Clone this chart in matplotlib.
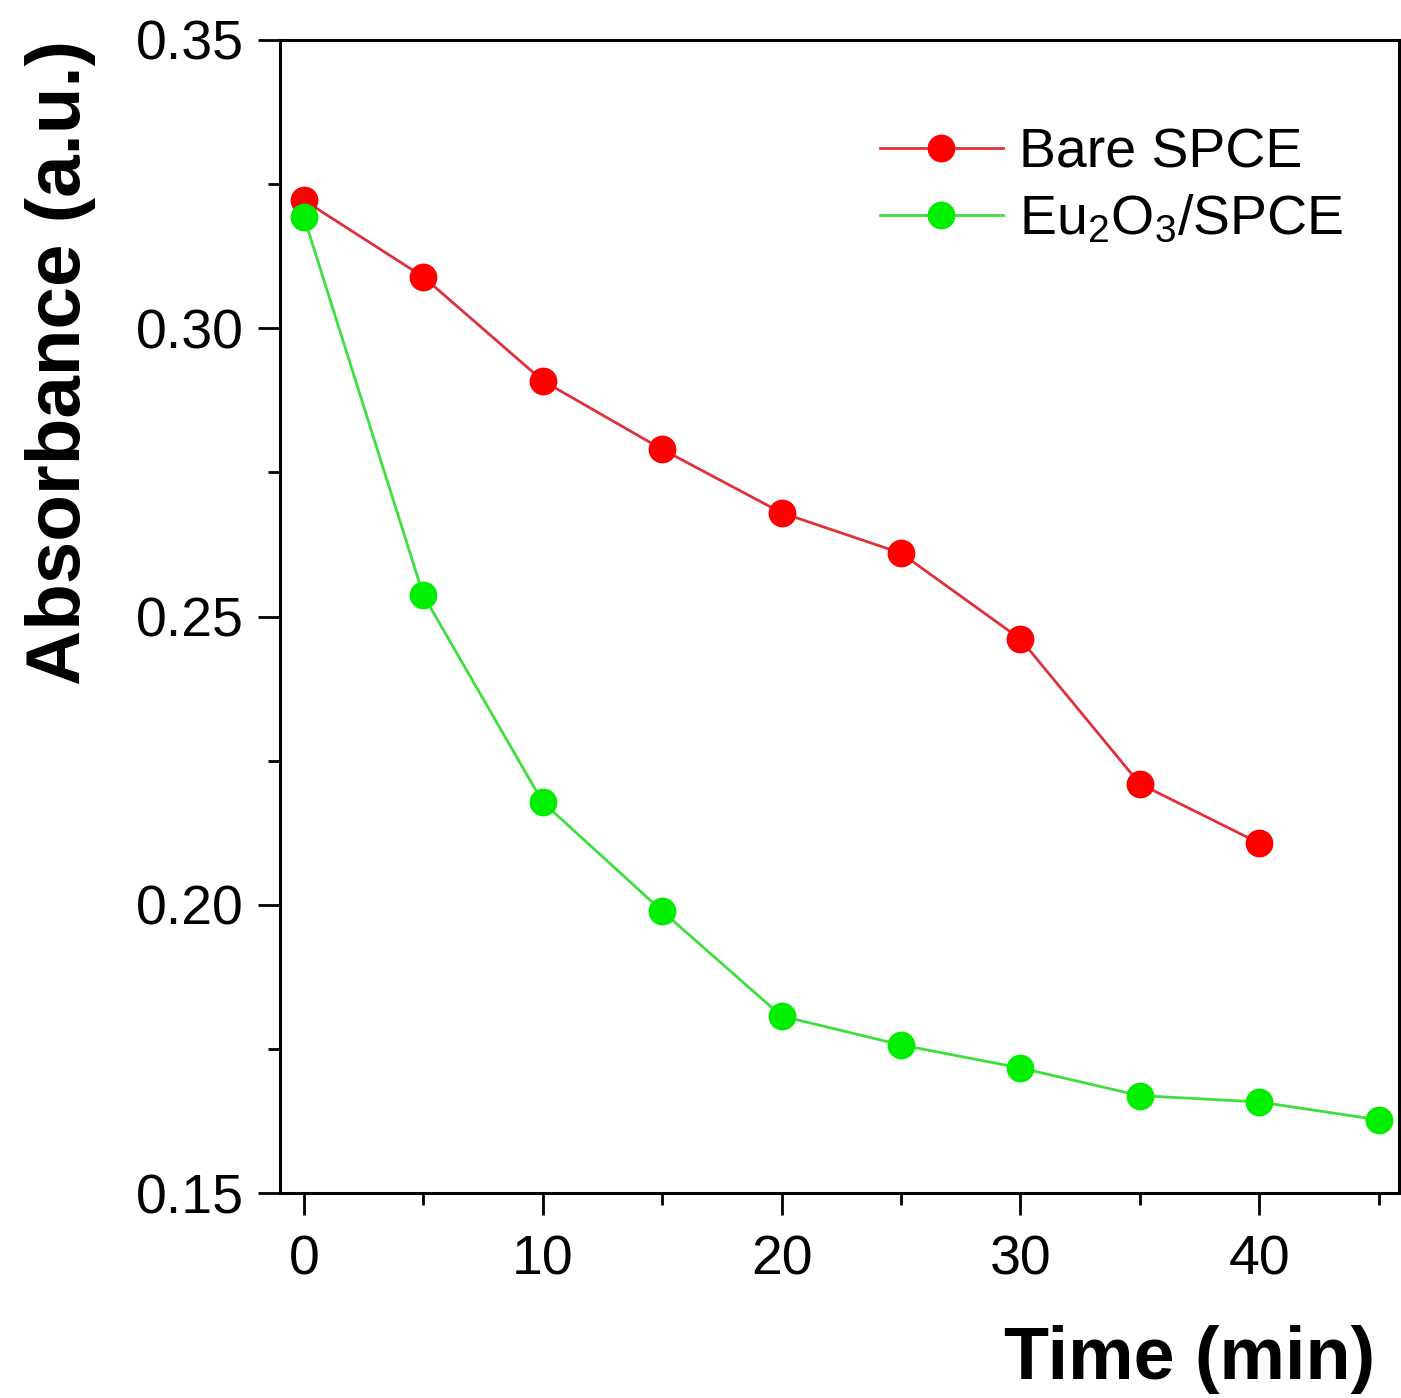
import numpy as np
import matplotlib
matplotlib.use("Agg")
import matplotlib.pyplot as plt
from matplotlib.ticker import MultipleLocator

plt.rcParams['font.family'] = ['Liberation Sans', 'DejaVu Sans']
plt.rcParams['mathtext.fontset'] = 'custom'
plt.rcParams['mathtext.rm'] = 'Liberation Sans'

# data
time_min = [0, 5, 10, 15, 20, 25, 30, 35, 40, 45]
bare_spce = [0.3222, 0.3089, 0.2909, 0.2790, 0.2680, 0.2610, 0.2461, 0.2210, 0.2107]
eu2o3_spce = [0.3193, 0.2537, 0.2178, 0.1989, 0.1807, 0.1757, 0.1717, 0.1669, 0.1658, 0.1627]

fig = plt.figure(figsize=(14.01, 13.98), dpi=100)
ax = fig.add_axes([0.1999, 0.1466, 0.7987, 0.8248])

ax.plot(time_min[:len(bare_spce)], bare_spce, color="#e0303c", lw=2,
        marker="o", ms=19, mfc="#ff0000", mec="#ff0000", label="Bare SPCE")
ax.plot(time_min, eu2o3_spce, color="#3ce03c", lw=2,
        marker="o", ms=19, mfc="#00ee00", mec="#00ee00",
        label=r"Eu$\mathregular{_2}$O$\mathregular{_3}$/SPCE")

ax.set_xlim(-1, 45.86)
ax.set_ylim(0.15, 0.35)
ax.xaxis.set_major_locator(MultipleLocator(10))
ax.xaxis.set_minor_locator(MultipleLocator(5))
ax.yaxis.set_major_locator(MultipleLocator(0.05))
ax.yaxis.set_minor_locator(MultipleLocator(0.025))
ax.yaxis.set_major_formatter(matplotlib.ticker.FormatStrFormatter('%.2f'))

for s in ax.spines.values():
    s.set_linewidth(2.2)
ax.tick_params(which="major", direction="out", length=16, width=2, labelsize=40, pad=10)
ax.tick_params(which="minor", direction="out", length=8.5, width=2)
ax.tick_params(axis="x", which="major", pad=14)

ax.set_xlabel("Time (min)", fontsize=53, fontweight="bold", ha="right")
ax.xaxis.set_label_coords(0.979, -0.114)
ax.set_ylabel("Absorbance (a.u.)", fontsize=55, fontweight="bold", loc="top", labelpad=29)

ax.legend(loc="upper right", frameon=False, fontsize=40, handlelength=2.2,
          handletextpad=0.3, labelspacing=0.26, borderaxespad=0.6,
          bbox_to_anchor=(1.0, 0.972))

fig.savefig("out.png", dpi=100)
